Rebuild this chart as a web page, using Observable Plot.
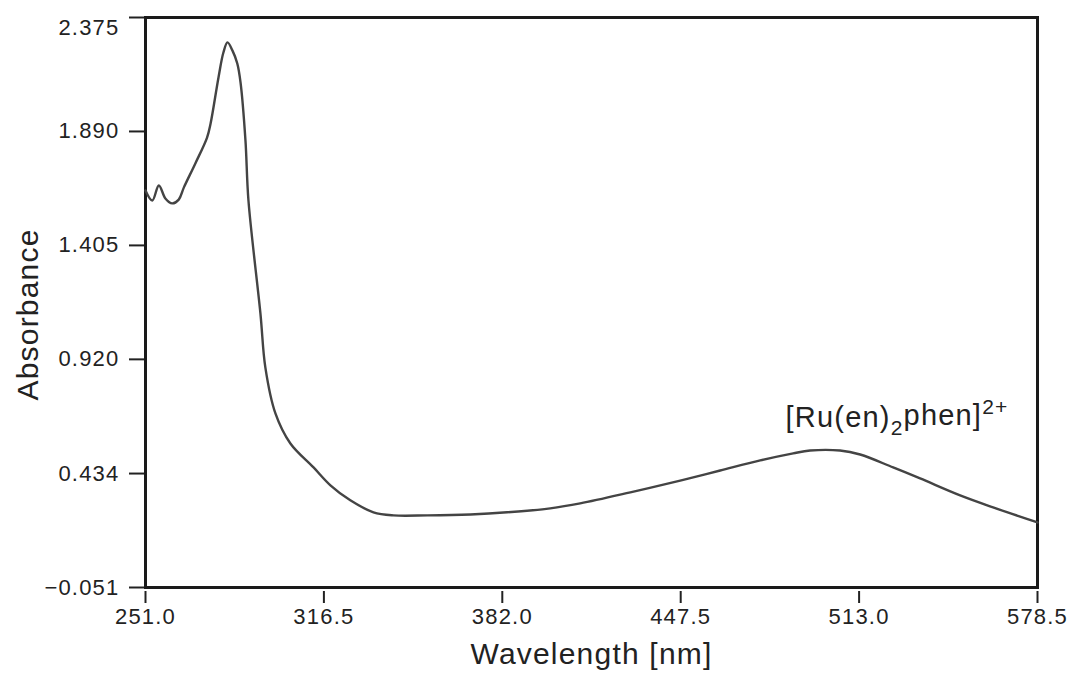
<!DOCTYPE html>
<html>
<head>
<meta charset="utf-8">
<script src="https://cdn.jsdelivr.net/npm/d3@7"></script>
<script src="https://cdn.jsdelivr.net/npm/@observablehq/plot@0.6"></script>
<style>
  html, body { margin: 0; padding: 0; background: #fff; }
  #chart svg { display: block; }
  #chart svg text { letter-spacing: 1.2px; }
</style>
</head>
<body>
<div id="chart"></div>
<script>
// Wavelength (nm) and absorbance
const wavelength = [251.0, 253.5, 255.9, 258.3, 260.8, 263.2, 265.1, 269.3, 273.6, 274.9, 277.8, 279.6, 281.1, 282.9, 284.7, 285.9, 287.7, 288.8, 293.2, 295.0, 298.7, 304.2, 312.7, 318.9, 326.2, 334.7, 342.0, 354.5, 370.3, 383.8, 399.6, 410.6, 429.0, 447.7, 462.0, 476.7, 488.8, 495.0, 506.0, 513.4, 525.5, 535.4, 550.1, 562.2, 578.5];
const absorbance = [1.639, 1.596, 1.660, 1.605, 1.584, 1.600, 1.652, 1.754, 1.864, 1.924, 2.120, 2.226, 2.269, 2.235, 2.179, 2.098, 1.852, 1.596, 1.115, 0.886, 0.690, 0.562, 0.460, 0.384, 0.320, 0.269, 0.256, 0.256, 0.260, 0.269, 0.286, 0.307, 0.354, 0.405, 0.447, 0.490, 0.520, 0.532, 0.532, 0.515, 0.460, 0.413, 0.341, 0.290, 0.226];

const xTicks = [251.0, 316.5, 382.0, 447.5, 513.0, 578.5];
const yTicks = [-0.051, 0.434, 0.920, 1.405, 1.890, 2.375];

const xTitle = "Wavelength [nm]";
const yTitle = "Absorbance";
const annotation = {x: 486.0, y: 0.63, parts: ["[Ru(en)", "2", "phen]", "2+"]};

const data = wavelength.map((w, i) => ({w, a: absorbance[i]}));

const plot = Plot.plot({
  width: 1073,
  height: 677,
  marginLeft: 145,
  marginRight: 36,
  marginTop: 17,
  marginBottom: 90,
  style: {fontFamily: "'Liberation Sans', Arial, Helvetica, sans-serif", color: "#222", background: "#fff"},
  x: {domain: [251.0, 578.5]},
  y: {domain: [-0.051, 2.375]},
  marks: [
    Plot.axisY({ticks: yTicks, tickFormat: d3.format(".3f"), tickSize: 16, tickPadding: 10, fontSize: 22, label: null, stroke: "#222", strokeWidth: 2, className: "yticks"}),
    Plot.text([yTitle], {frameAnchor: "left", textAnchor: "middle", dx: -117, dy: 12, rotate: -90, fontSize: 30, fill: "#222", lineAnchor: "middle"}),
    Plot.axisX({ticks: xTicks, tickFormat: d3.format(".1f"), tickSize: 12, tickPadding: 5, dy: 4, fontSize: 22, label: null, stroke: "#222", strokeWidth: 2}),
    Plot.axisX({ticks: [], label: xTitle, labelAnchor: "center", labelArrow: "none", labelOffset: 76, fontSize: 30}),
    Plot.frame({stroke: "#1a1a1a", strokeWidth: 3}),
    Plot.line(data, {x: "w", y: "a", stroke: "#444", strokeWidth: 2.4, curve: "catmull-rom"}),
    Plot.text([annotation], {x: "x", y: "y", text: d => d.parts.join(""), textAnchor: "start", lineAnchor: "bottom", fontSize: 29, fill: "#222", className: "anno"})
  ]
});

document.getElementById("chart").appendChild(plot);

// The topmost y tick label sits slightly below its tick in the reference
d3.select(plot).selectAll("text").filter(function () { return this.textContent === "2.375"; })
  .attr("dy", function () { return (parseFloat(this.getAttribute("dy")) || 0) + 10; });

// Rich text for the annotation: subscript and superscript
d3.select(plot).selectAll("g.anno text").each(function () {
  const t = d3.select(this);
  t.text(null);
  const p = annotation.parts;
  t.append("tspan").text(p[0]);
  t.append("tspan").attr("font-size", 21).attr("dy", "0.35em").text(p[1]);
  t.append("tspan").attr("dy", "-0.35em").text(p[2]);
  t.append("tspan").attr("font-size", 21).attr("dy", "-0.5em").text(p[3]);
});
</script>
</body>
</html>
